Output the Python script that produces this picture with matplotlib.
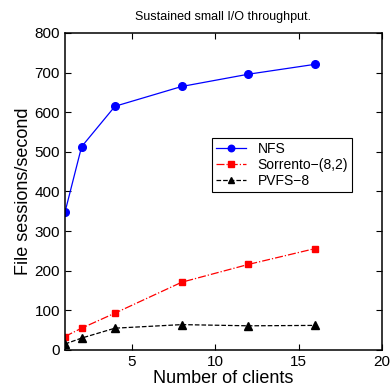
import matplotlib

matplotlib.use("Agg")
import matplotlib.pyplot as plt

CLIENTS = [1, 2, 4, 8, 12, 16]
NFS = [347, 513, 615, 665, 696, 721]
SORRENTO = [34, 55, 93, 171, 216, 256]
PVFS = [15, 30, 55, 64, 61, 62]
XTICKS = [5, 10, 15, 20]
YTICKS = [0, 100, 200, 300, 400, 500, 600, 700, 800]

plt.rcParams["font.family"] = ["Liberation Sans", "DejaVu Sans"]

fig = plt.figure(figsize=(3.91, 3.88), dpi=100)
ax = fig.add_axes([0.166, 0.098, 0.811, 0.817])

ax.plot(CLIENTS, NFS, "-", color="blue", lw=0.9, marker="o", ms=5.5,
        label="NFS")
ax.plot(CLIENTS, SORRENTO, "-.", color="red", lw=0.9, marker="s", ms=5,
        label="Sorrento\u2212(8,2)")
ax.plot(CLIENTS, PVFS, "--", color="black", lw=0.9, marker="^", ms=5.5,
        label="PVFS\u22128")

ax.set_xlim(1, 20)
ax.set_ylim(0, 800)
ax.set_xticks(XTICKS)
ax.set_yticks(YTICKS)
ax.tick_params(direction="in", top=True, right=True, labelsize=11, length=4)
for s in ax.spines.values():
    s.set_linewidth(1.1)

ax.set_xlabel("Number of clients", fontsize=13, labelpad=1)
ax.set_ylabel("File sessions/second", fontsize=13, labelpad=2)
ax.set_title("Sustained small I/O throughput.", fontsize=9, pad=9)

leg = ax.legend(loc="upper left", bbox_to_anchor=(0.463, 0.669), fontsize=10,
                fancybox=False, edgecolor="black", framealpha=1,
                borderpad=0.3, labelspacing=0.15, handlelength=2.2,
                markerscale=0.85, borderaxespad=0)
leg.get_frame().set_linewidth(0.8)

fig.savefig("out.png", dpi=100)
